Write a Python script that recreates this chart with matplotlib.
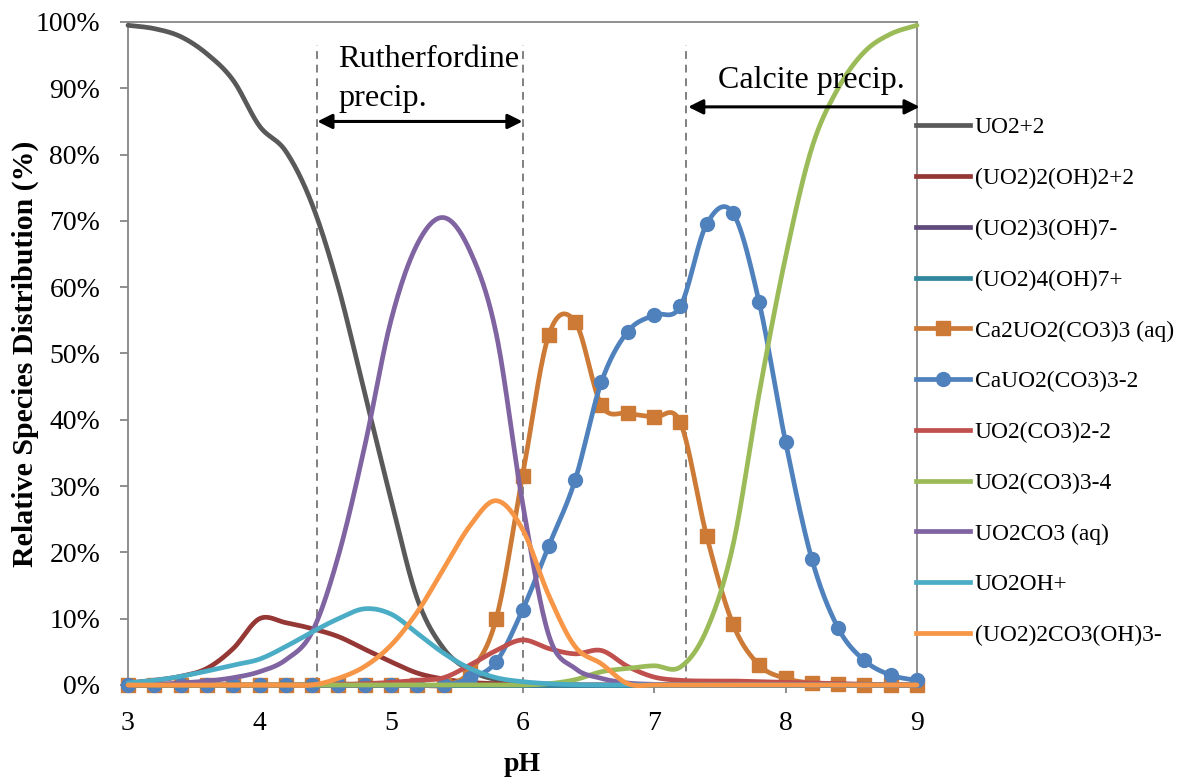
import numpy as np
import matplotlib
matplotlib.use("Agg")
import matplotlib.pyplot as plt
from matplotlib.lines import Line2D

plt.rcParams['font.family'] = ['Liberation Serif', 'DejaVu Serif']

ph = [3.0, 3.2, 3.4, 3.6, 3.8, 4.0, 4.2, 4.4, 4.6, 4.8, 5.0, 5.2, 5.4, 5.6, 5.8,
      6.0, 6.2, 6.4, 6.6, 6.8, 7.0, 7.2, 7.4, 7.6, 7.8, 8.0, 8.2, 8.4, 8.6, 8.8, 9.0]

uo2 = [99.5, 99.0, 97.8, 95.2, 91.2, 84.3, 80.5, 72.5, 60.0, 44.0, 28.0, 13.0, 5.5, 2.2, 0.8,
       0.3, 0.1, 0, 0, 0, 0, 0, 0, 0, 0, 0, 0, 0, 0, 0, 0]
uo2_2_oh2 = [0.3, 0.7, 1.3, 2.5, 5.5, 10.0, 9.4, 8.5, 7.3, 5.4, 3.5, 1.8, 0.9, 0.4, 0.2,
             0.1, 0.05, 0, 0, 0, 0, 0, 0, 0, 0, 0, 0, 0, 0, 0, 0]
uo2_3_oh7 = [0] * 31
uo2_4_oh7 = [0] * 31
ca2uo2 = [0, 0, 0, 0, 0, 0, 0, 0, 0, 0, 0, 0, 0, 2.0, 10.0,
          31.5, 52.8, 54.8, 42.2, 41.0, 40.4, 39.6, 22.5, 9.2, 3.0, 1.0, 0.3, 0.1, 0, 0, 0]
cauo2 = [0, 0, 0, 0, 0, 0, 0, 0, 0, 0, 0, 0, 0, 1.0, 3.5,
         11.3, 21.0, 30.9, 45.7, 53.3, 55.8, 57.1, 69.5, 71.2, 57.7, 36.7, 19.0, 8.6, 3.7, 1.5, 0.7]
uo2co3_2 = [0, 0, 0, 0, 0, 0, 0, 0.05, 0.1, 0.2, 0.4, 0.7, 1.1, 3.0, 5.2,
            6.8, 5.5, 4.7, 5.2, 2.8, 1.2, 0.7, 0.6, 0.6, 0.5, 0.4, 0.3, 0.2, 0.1, 0.05, 0]
uo2co3_3 = [0, 0, 0, 0, 0, 0, 0, 0, 0, 0, 0, 0, 0, 0, 0,
            0, 0.2, 0.8, 2.0, 2.5, 2.9, 2.7, 8.3, 21.0, 44.0, 64.5, 81.0, 90.0, 95.5, 98.2, 99.5]
uo2co3 = [0, 0.1, 0.3, 0.6, 1.1, 2.0, 3.8, 8.0, 19.5, 36.0, 55.0, 66.5, 70.5, 65.5, 53.0,
          27.5, 7.5, 2.5, 1.0, 0.3, 0.1, 0, 0, 0, 0, 0, 0, 0, 0, 0, 0]
uo2oh = [0.3, 0.7, 1.3, 2.1, 3.0, 3.9, 5.8, 8.0, 10.0, 11.5, 10.7, 7.8, 4.8, 2.5, 1.1,
         0.5, 0.2, 0.05, 0, 0, 0, 0, 0, 0, 0, 0, 0, 0, 0, 0, 0]
uo2_2co3oh3 = [0, 0, 0, 0, 0, 0, 0, 0, 1.0, 2.8, 6.0, 11.0, 17.5, 24.0, 27.8,
               23.5, 13.5, 5.8, 3.2, 0.2, 0, 0, 0, 0, 0, 0, 0, 0, 0, 0, 0]

labels = ["UO2+2", "(UO2)2(OH)2+2", "(UO2)3(OH)7-", "(UO2)4(OH)7+", "Ca2UO2(CO3)3 (aq)",
          "CaUO2(CO3)3-2", "UO2(CO3)2-2", "UO2(CO3)3-4", "UO2CO3 (aq)", "UO2OH+",
          "(UO2)2CO3(OH)3-"]
series = [uo2, uo2_2_oh2, uo2_3_oh7, uo2_4_oh7, ca2uo2, cauo2, uo2co3_2, uo2co3_3,
          uo2co3, uo2oh, uo2_2co3oh3]
colors = ["#595959", "#953735", "#604A7B", "#31859C", "#CC7A36", "#4F81BD",
          "#C0504D", "#9BBB59", "#8064A2", "#4BACC6", "#F79646"]
markers = [None, None, None, None, "s", "o", None, None, None, None, None]


def excel_smooth(x, y, n=30):
    """Excel-style smoothed line (Catmull-Rom Bezier) through the points."""
    x = np.asarray(x, float)
    y = np.asarray(y, float)
    px = np.concatenate([[x[0]], x, [x[-1]]])
    py = np.concatenate([[y[0]], y, [y[-1]]])
    xs, ys = [], []
    t = np.linspace(0, 1, n, endpoint=False)
    for i in range(1, len(px) - 2):
        p0x, p1x, p2x, p3x = px[i], px[i] + (px[i + 1] - px[i - 1]) / 6, px[i + 1] - (px[i + 2] - px[i]) / 6, px[i + 1]
        p0y, p1y, p2y, p3y = py[i], py[i] + (py[i + 1] - py[i - 1]) / 6, py[i + 1] - (py[i + 2] - py[i]) / 6, py[i + 1]
        b0 = (1 - t) ** 3
        b1 = 3 * (1 - t) ** 2 * t
        b2 = 3 * (1 - t) * t ** 2
        b3 = t ** 3
        xs.append(b0 * p0x + b1 * p1x + b2 * p2x + b3 * p3x)
        ys.append(b0 * p0y + b1 * p1y + b2 * p2y + b3 * p3y)
    xs.append([x[-1]])
    ys.append([y[-1]])
    return np.concatenate(xs), np.concatenate(ys)


fig = plt.figure(figsize=(11.88, 7.79), dpi=100)
ax = fig.add_axes([128 / 1188, 1 - 685 / 779, (917 - 128) / 1188, (685 - 22) / 779])

LW = 3.4
handles = []
for i, (lab, ys, c, m) in enumerate(zip(labels, series, colors, markers)):
    sx, sy = excel_smooth(ph, ys)
    ax.plot(sx, sy, color=c, lw=LW, solid_capstyle='round', zorder=3 + i, clip_on=False)
    if m is not None:
        ax.plot(ph, ys, linestyle='none', marker=m, markersize=10, color=c,
                markeredgecolor=c, zorder=3 + i, clip_on=False)
    handles.append(Line2D([], [], color=c, lw=LW, marker=m, markersize=10))

# precipitation regions
for xv in [4.44, 6.0, 7.24]:
    ax.plot([xv, xv], [0, 96.5], color="#808080", lw=1.4, ls=(0, (4, 3)), zorder=2)

ax.annotate("", xy=(4.44, 85.0), xytext=(6.0, 85.0),
            arrowprops=dict(arrowstyle="<|-|>", color="black", lw=2.2, mutation_scale=22,
                            shrinkA=0, shrinkB=0), zorder=20)
ax.annotate("", xy=(7.26, 87.2), xytext=(9.02, 87.2),
            arrowprops=dict(arrowstyle="<|-|>", color="black", lw=2.2, mutation_scale=22,
                            shrinkA=0, shrinkB=0), zorder=20, annotation_clip=False)
ax.text(4.6, 93.2, "Rutherfordine", fontsize=23.2, va='baseline', ha='left', zorder=21)
ax.text(4.6, 87.4, "precip.", fontsize=23.2, va='baseline', ha='left', zorder=21)
ax.text(7.49, 90.0, "Calcite precip.", fontsize=23, va='baseline', ha='left', zorder=21)

ax.set_xlim(3, 9)
ax.set_ylim(0, 100)
ax.set_xticks([3, 4, 5, 6, 7, 8, 9])
ax.set_yticks(range(0, 101, 10))
ax.set_yticklabels([f"{v}%" for v in range(0, 101, 10)])
ax.tick_params(axis='both', direction='out', length=6, width=1.3, color="#868686")
ax.tick_params(axis='y', pad=14, labelsize=20)
ax.tick_params(axis='x', pad=13, labelsize=20)
for s in ax.spines.values():
    s.set_color("#868686")
    s.set_linewidth(1.3)

ax.set_xlabel("pH", fontsize=20, fontweight='bold', labelpad=11)
ax.set_ylabel("Relative Species Distribution (%)", fontsize=21.5, fontweight='bold', labelpad=-2.3)

leg = fig.legend(handles=handles, labels=labels, loc='upper left',
                 bbox_to_anchor=(916 / 1188, 1 - 117 / 779), frameon=False,
                 fontsize=16.9, handlelength=2.3, handletextpad=0.2, labelspacing=1.25,
                 borderpad=0, borderaxespad=0)

fig.savefig("out.png", dpi=100)
